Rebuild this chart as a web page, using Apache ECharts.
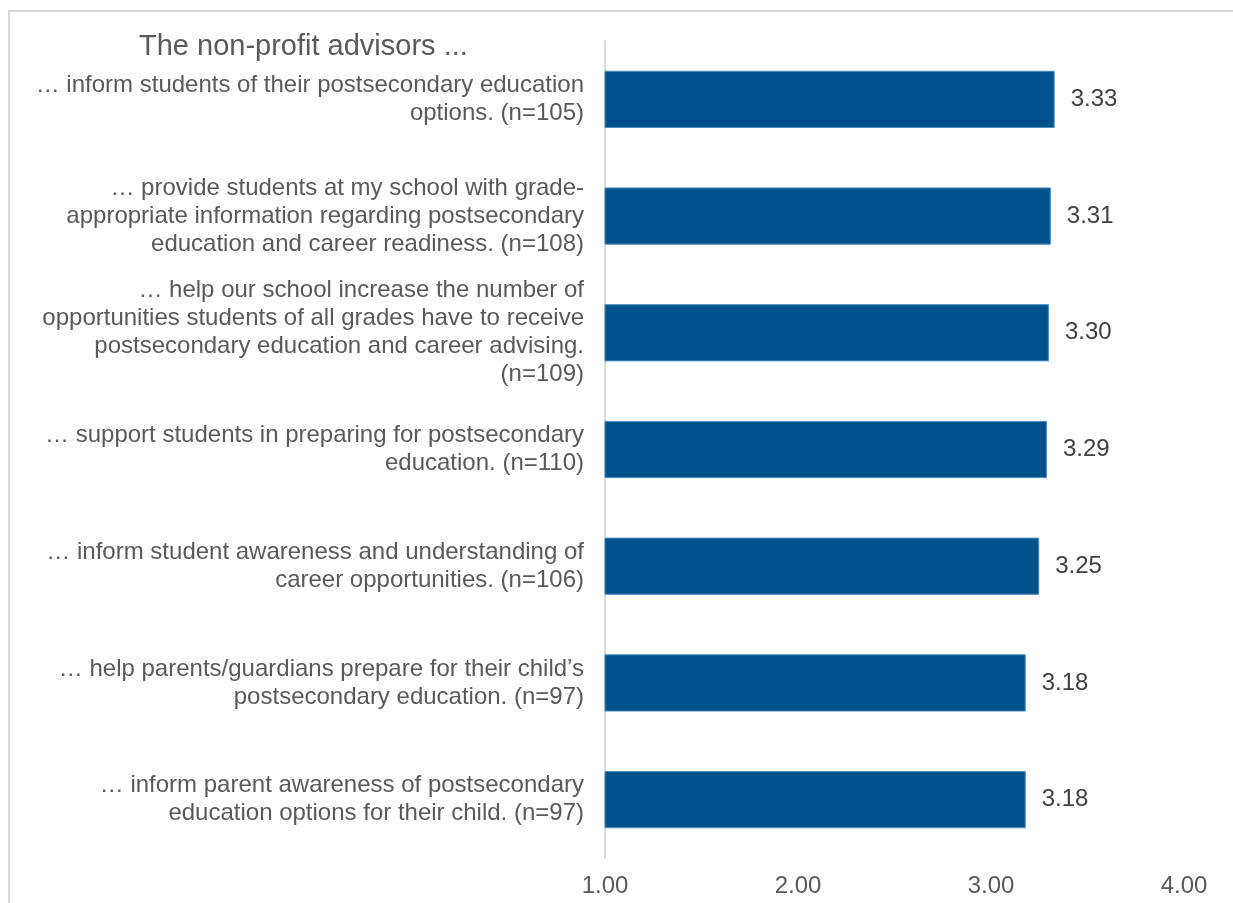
<!DOCTYPE html>
<html>
<head>
<meta charset="utf-8">
<script src="https://cdn.jsdelivr.net/npm/echarts@6/dist/echarts.min.js"></script>
<style>
  html, body { margin: 0; padding: 0; background: #fff; }
  #chart { width: 1233px; height: 903px; }
</style>
</head>
<body>
<div id="chart"></div>
<script>
var categories = [
  '… inform students of their postsecondary education\noptions. (n=105)',
  '… provide students at my school with grade-\nappropriate information regarding postsecondary\neducation and career readiness. (n=108)',
  '… help our school increase the number of\nopportunities students of all grades have to receive\npostsecondary education and career advising.\n(n=109)',
  '… support students in preparing for postsecondary\neducation. (n=110)',
  '… inform student awareness and understanding of\ncareer opportunities. (n=106)',
  '… help parents/guardians prepare for their child’s\npostsecondary education. (n=97)',
  '… inform parent awareness of postsecondary\neducation options for their child. (n=97)'
]
var values = [3.33, 3.31, 3.30, 3.29, 3.25, 3.18, 3.18]
var xTicks = [1, 2, 3, 4]

var myChart = echarts.init(document.getElementById('chart'))
var option = {
  animation: false,
  textStyle: { fontFamily: 'Liberation Sans, Arial, sans-serif' },
  title: {
    text: 'The non-profit advisors ...',
    left: 134,
    top: 27,
    textStyle: {
      color: '#595959',
      fontSize: 29,
      fontWeight: 'normal',
      fontFamily: 'Liberation Sans, Arial, sans-serif'
    }
  },
  graphic: [{
    type: 'rect',
    shape: { x: 9, y: 11, width: 1240, height: 910 },
    style: { fill: 'none', stroke: '#d9d9d9', lineWidth: 2 },
    silent: true
  }],
  grid: {
    left: 605,
    right: 49,
    top: 41,
    bottom: 45,
    containLabel: false
  },
  xAxis: {
    type: 'value',
    min: xTicks[0],
    max: xTicks[xTicks.length - 1],
    interval: 1,
    axisLine: { show: false },
    axisTick: { show: false },
    splitLine: { show: false },
    axisLabel: {
      color: '#595959',
      fontSize: 24,
      margin: 16,
      formatter: function (v) { return v.toFixed(2) }
    }
  },
  yAxis: {
    type: 'category',
    inverse: true,
    data: categories,
    axisLine: { show: true, lineStyle: { color: '#d9d9d9', width: 2 } },
    axisTick: { show: false },
    axisLabel: {
      color: '#595959',
      fontSize: 24,
      lineHeight: 28,
      margin: 21,
      align: 'right',
      interval: 0
    }
  },
  series: [{
    type: 'bar',
    data: values,
    barWidth: '49%',
    itemStyle: {
      color: '#00538a',
      borderColor: '#4a8cc4',
      borderWidth: 1
    },
    label: {
      show: true,
      position: 'right',
      distance: 16,
      color: '#404040',
      fontSize: 24,
      formatter: function (p) { return p.value.toFixed(2) }
    }
  }]
}
myChart.setOption(option)
</script>
</body>
</html>
